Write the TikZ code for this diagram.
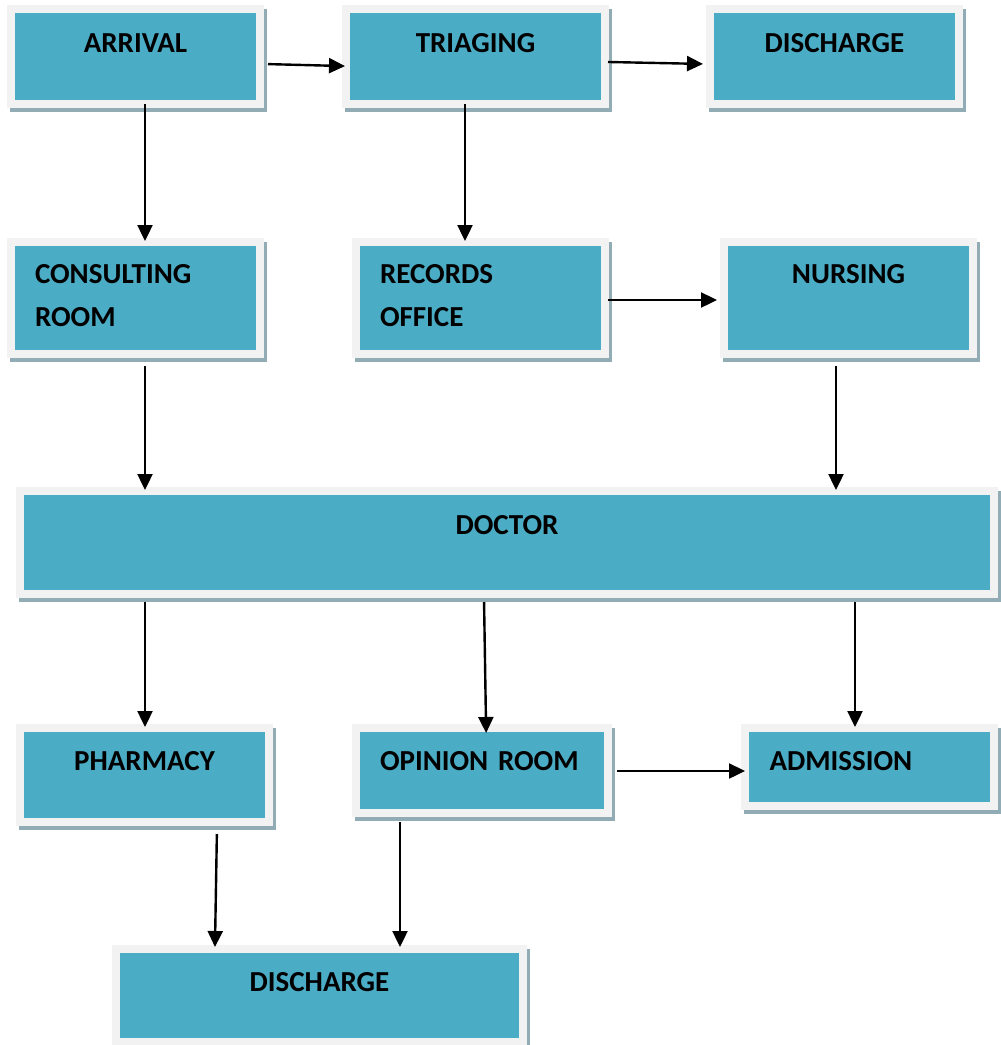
\documentclass[tikz,border=0pt]{standalone}
\usepackage{fontspec}
\setmainfont{Carlito}
\usetikzlibrary{arrows.meta,shadows}
\definecolor{boxteal}{RGB}{75,172,198}
\definecolor{boxframe}{RGB}{242,242,242}
\definecolor{boxshade}{RGB}{146,172,182}
\tikzset{
  box/.style={fill=boxteal, draw=boxframe, line width=8pt, outer sep=4pt, inner sep=0pt,
    font=\fontsize{29}{43}\selectfont\bfseries,
    general shadow={fill=boxshade, draw=boxshade, line width=8pt, shadow xshift=3pt, shadow yshift=-4pt}},
  boxl/.style={box, text width=#1, align=left, inner xsep=24pt},
  flow/.style={line width=2.4pt, -{Triangle[length=16pt,width=15pt]}}
}
\begin{document}
\begin{tikzpicture}[x=1pt,y=-1pt]
\useasboundingbox (0,0) rectangle (1001,1045);
\node[box, minimum width=249pt, text height=43pt, text depth=52pt](arrival) at (135.5,56.5){ARRIVAL};
\node[box, minimum width=259pt, text height=43pt, text depth=52pt](triaging) at (475.5,56.5){TRIAGING};
\node[box, minimum width=249pt, text height=43pt, text depth=52pt](dischtop) at (834.5,56.5){DISCHARGE};
\node[boxl=201pt, text height=41pt, text depth=71pt](consulting) at (135.5,298){CONSULTING\\ROOM};
\node[boxl=201pt, text height=41pt, text depth=71pt](records) at (480.5,298){RECORDS\\OFFICE};
\node[box, minimum width=249pt, text height=41pt, text depth=71pt](nursing) at (848.5,298){NURSING};
\node[box, minimum width=974pt, text height=43pt, text depth=60pt](doctor) at (507,542.5){DOCTOR};
\node[box, minimum width=249pt, text height=42pt, text depth=52pt](pharmacy) at (144.5,775){PHARMACY};
\node[boxl=204pt, text height=42pt, text depth=43pt](opinion) at (482,770.5){OPINION ROOM};
\node[boxl=200pt, text height=42pt, text depth=36pt, inner xsep=24.5pt](admission) at (869.5,767){ADMISSION};
\node[box, minimum width=407pt, text height=42pt, text depth=51pt](dischbot) at (319.5,995.5){DISCHARGE};
\draw[flow, shorten <=4pt, shorten >=-3pt](arrival.east |- 0,64) -- (triaging.west |- 0,66);
\draw[flow, shorten <=-1pt, shorten >=3pt](triaging.east |- 0,62) -- (dischtop.west |- 0,64);
\draw[flow, shorten <=-4pt, shorten >=-3pt](arrival.south -| 145,0) -- (consulting.north -| 145,0);
\draw[flow, shorten <=-4pt, shorten >=-3pt](triaging.south -| 465,0) -- (records.north -| 465,0);
\draw[flow, shorten <=-1pt, shorten >=3pt](records.east |- 0,300) -- (nursing.west |- 0,300);
\draw[flow, shorten <=8pt, shorten >=-3pt](consulting.south -| 145,0) -- (doctor.north -| 145,0);
\draw[flow, shorten <=8pt, shorten >=-3pt](nursing.south -| 836,0) -- (doctor.north -| 836,0);
\draw[flow, shorten <=4pt, shorten >=-3pt](doctor.south -| 145,0) -- (pharmacy.north -| 145,0);
\draw[flow, shorten <=4pt, shorten >=-9pt](doctor.south -| 484,0) -- (opinion.north -| 486,0);
\draw[flow, shorten <=4pt, shorten >=-3pt](doctor.south -| 855,0) -- (admission.north -| 855,0);
\draw[flow, shorten <=5pt, shorten >=-4pt](opinion.east |- 0,771) -- (admission.west |- 0,771);
\draw[flow, shorten <=8pt, shorten >=-2pt](pharmacy.south -| 217,0) -- (dischbot.north -| 215,0);
\draw[flow, shorten <=5pt, shorten >=-2pt](opinion.south -| 400,0) -- (dischbot.north -| 400,0);
\end{tikzpicture}
\end{document}
